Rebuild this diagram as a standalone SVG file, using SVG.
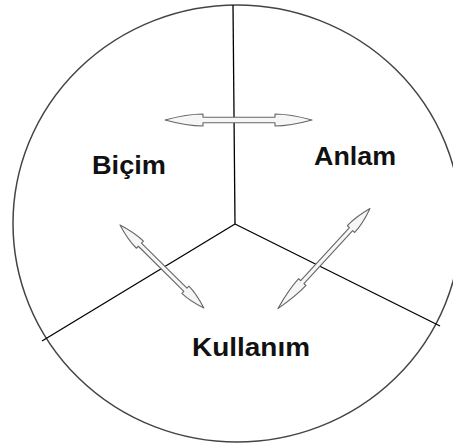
<svg xmlns="http://www.w3.org/2000/svg" width="453" height="447" viewBox="0 0 453 447">
<style>
.bound{fill:none;stroke:#444;stroke-width:1.5}
.div{stroke:#000;stroke-width:1.3;fill:none}
.arr{fill:#f6f6f6;stroke:#666;stroke-width:1.1;stroke-linejoin:round}
.lbl{font-family:"Liberation Sans",Arial,sans-serif;font-weight:bold;font-size:25px;fill:#111}
</style>
<rect width="453" height="447" fill="#fff"/>
<ellipse class="bound" cx="237" cy="223.5" rx="224" ry="218.5"/>
<g id="connectors">
<line class="div" x1="233" y1="5" x2="235" y2="224"/>
<line class="div" x1="235" y1="224" x2="42" y2="341"/>
<line class="div" x1="235" y1="224" x2="440" y2="326"/>
<path class="arr" transform="translate(165,120)" d="M0,0 Q22,-6 38,-6 L38,-2.7 L110,-2.7 L110,-6 Q125,-6 147,0 Q125,6 110,6 L110,2.7 L38,2.7 L38,6 Q22,6 0,0Z"/>
<path class="arr" transform="translate(120,225) rotate(44.7)" d="M0,0 Q16,-5 28,-5 L28,-2.2 L92,-2.2 L92,-5 Q102,-5 118,0 Q102,5 92,5 L92,2.2 L28,2.2 L28,5 Q16,5 0,0Z"/>
<path class="arr" transform="translate(370,208.5) rotate(132.6)" d="M0,0 Q16,-5 28,-5 L28,-2.2 L100,-2.2 L100,-5 Q114,-5 136,0 Q114,5 100,5 L100,2.2 L28,2.2 L28,5 Q16,5 0,0Z"/>
</g>
<g id="bicim"><text class="lbl" x="92" y="174" textLength="74" lengthAdjust="spacingAndGlyphs">Biçim</text></g>
<g id="anlam"><text class="lbl" x="314" y="165" textLength="82" lengthAdjust="spacingAndGlyphs">Anlam</text></g>
<g id="kullanim"><text class="lbl" x="192" y="356" textLength="118" lengthAdjust="spacingAndGlyphs">Kullanım</text></g>
</svg>
